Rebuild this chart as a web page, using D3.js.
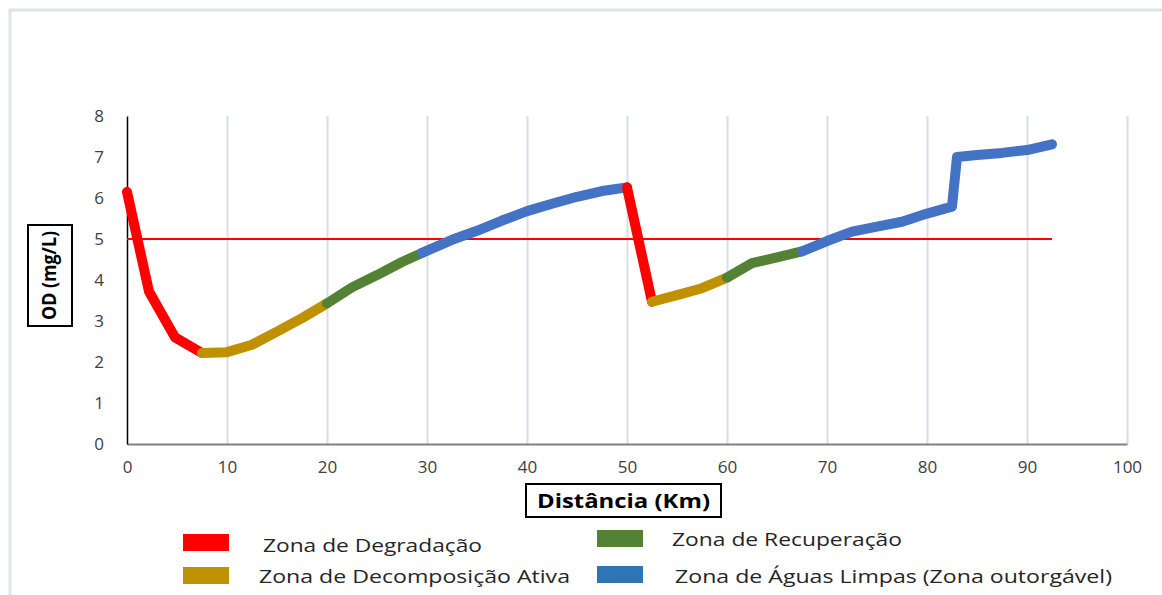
<!DOCTYPE html>
<html>
<head>
<meta charset="utf-8">
<script src="https://cdn.jsdelivr.net/npm/d3@7"></script>
<style>
  html, body { margin: 0; padding: 0; background: #ffffff; }
  svg { display: block; }
  text { font-family: "Open Sans", "DejaVu Sans", sans-serif; }
</style>
</head>
<body>
<svg id="chart" width="1162" height="595"></svg>
<script>
// ---- Data ----
const zoneNames = ["Zona de Degradação", "Zona de Decomposição Ativa", "Zona de Recuperação", "Zona de Águas Limpas (Zona outorgável)"];
const zoneColors = ["#ff0000", "#bf9000", "#548235", "#4472c4"];
const legendColors = ["#ff0000", "#bf9000", "#548235", "#2e75b6"];

// Segments: zone index, distances (km), OD values (mg/L)
const seg1Zone = 0;
const seg1X = [0, 2.2, 4.8, 7.5];
const seg1Y = [6.15, 3.72, 2.6, 2.22];

const seg2Zone = 1;
const seg2X = [7.5, 10, 12.5, 15, 17.5, 20];
const seg2Y = [2.22, 2.24, 2.42, 2.74, 3.07, 3.43];

const seg3Zone = 2;
const seg3X = [20, 22.5, 25, 27.5, 29.5];
const seg3Y = [3.43, 3.82, 4.12, 4.44, 4.66];

const seg4Zone = 3;
const seg4X = [29.5, 32.5, 35, 37.5, 40, 42.5, 45, 47.5, 50];
const seg4Y = [4.66, 4.98, 5.2, 5.45, 5.68, 5.86, 6.03, 6.17, 6.26];

const seg5Zone = 0;
const seg5X = [50, 52.5];
const seg5Y = [6.26, 3.47];

const seg6Zone = 1;
const seg6X = [52.5, 55, 57.5, 60];
const seg6Y = [3.47, 3.63, 3.8, 4.06];

const seg7Zone = 2;
const seg7X = [60, 62.5, 65, 67.5];
const seg7Y = [4.06, 4.41, 4.55, 4.7];

const seg8Zone = 3;
const seg8X = [67.5, 70, 72.5, 75, 77.5, 80, 82.5, 83, 85, 87.5, 90, 92.5];
const seg8Y = [4.7, 4.95, 5.18, 5.3, 5.42, 5.62, 5.79, 7.0, 7.05, 7.1, 7.17, 7.31];

const thresholdValue = 5;
const thresholdX = [0, 92.5];

const xTicks = [0, 10, 20, 30, 40, 50, 60, 70, 80, 90, 100];
const yTicks = [0, 1, 2, 3, 4, 5, 6, 7, 8];
const xTitle = "Distância (Km)";
const yTitle = "OD (mg/L)";

// ---- Layout ----
const svg = d3.select("#chart");
const pLeft = 127, pRight = 1127, pTop = 116, pBottom = 444;

const x = d3.scaleLinear().domain([0, 100]).range([pLeft, pRight]);
const y = d3.scaleLinear().domain([0, 8]).range([pBottom, pTop]);

// Outer frame
svg.append("rect")
  .attr("x", 10).attr("y", 10).attr("width", 1250).attr("height", 700)
  .attr("fill", "none").attr("stroke", "#dfe3eb").attr("stroke-width", 3);

// Vertical gridlines
const grid = svg.append("g").attr("transform", `translate(0,${pBottom})`)
  .call(d3.axisBottom(x).tickValues(xTicks.slice(1)).tickSize(-(pBottom - pTop)).tickFormat(""));
grid.select(".domain").remove();
grid.selectAll("line").attr("stroke", "#d9dee8").attr("stroke-width", 2);

// X axis
const xAxis = svg.append("g").attr("transform", `translate(0,${pBottom})`)
  .call(d3.axisBottom(x).tickValues(xTicks).tickSize(0).tickPadding(17));
xAxis.select(".domain").attr("stroke", "#808080").attr("stroke-width", 2);
xAxis.selectAll("text").attr("font-size", 17).attr("fill", "#404040")
  .attr("font-family", "'Open Sans', sans-serif");

// Y axis
const yAxis = svg.append("g").attr("transform", `translate(${pLeft},0)`)
  .call(d3.axisLeft(y).tickValues(yTicks).tickSize(0).tickPadding(23));
yAxis.select(".domain").attr("stroke", "#000000").attr("stroke-width", 1.5);
yAxis.selectAll("text").attr("font-size", 17).attr("fill", "#404040")
  .attr("font-family", "'Open Sans', sans-serif");

// Threshold line
svg.append("line")
  .attr("x1", x(thresholdX[0])).attr("x2", x(thresholdX[1]))
  .attr("y1", y(thresholdValue)).attr("y2", y(thresholdValue))
  .attr("stroke", "#ff0000").attr("stroke-width", 2);

// Segments
const segments = [
  [seg1Zone, seg1X, seg1Y], [seg2Zone, seg2X, seg2Y], [seg3Zone, seg3X, seg3Y], [seg4Zone, seg4X, seg4Y],
  [seg5Zone, seg5X, seg5Y], [seg6Zone, seg6X, seg6Y], [seg7Zone, seg7X, seg7Y], [seg8Zone, seg8X, seg8Y]
];
const line = d3.line().x(d => x(d[0])).y(d => y(d[1]));
segments.forEach(([z, xs, ys]) => {
  svg.append("path")
    .datum(xs.map((v, i) => [v, ys[i]]))
    .attr("d", line)
    .attr("fill", "none")
    .attr("stroke", zoneColors[z])
    .attr("stroke-width", 10)
    .attr("stroke-linecap", "round")
    .attr("stroke-linejoin", "round");
});

// Axis titles
svg.append("rect").attr("x", 526).attr("y", 484).attr("width", 195).attr("height", 33)
  .attr("fill", "none").attr("stroke", "#000").attr("stroke-width", 2);
svg.append("text").attr("x", 623.5).attr("y", 508).attr("text-anchor", "middle")
  .attr("font-size", 20).attr("font-weight", "bold").attr("fill", "#000")
  .attr("textLength", 173).attr("lengthAdjust", "spacingAndGlyphs")
  .text(xTitle);

svg.append("rect").attr("x", 28).attr("y", 225).attr("width", 44).attr("height", 101)
  .attr("fill", "none").attr("stroke", "#000").attr("stroke-width", 2);
svg.append("text").attr("transform", "translate(56,275.5) rotate(-90)").attr("text-anchor", "middle")
  .attr("font-size", 19).attr("font-weight", "bold").attr("fill", "#000")
  .attr("textLength", 89).attr("lengthAdjust", "spacingAndGlyphs")
  .text(yTitle);

// Legend
const legendRectX = [183, 183, 597, 597];
const legendRectY = [534, 567, 530, 566];
const legendTextX = [263, 259, 672, 675];
const legendTextY = [552, 583, 546, 583];
const legendTextW = [219, 311, 230, 437];
zoneNames.forEach((name, i) => {
  svg.append("rect").attr("x", legendRectX[i]).attr("y", legendRectY[i])
    .attr("width", 46).attr("height", 17).attr("fill", legendColors[i]);
  svg.append("text").attr("x", legendTextX[i]).attr("y", legendTextY[i])
    .attr("font-size", 18).attr("fill", "#262626")
    .attr("textLength", legendTextW[i]).attr("lengthAdjust", "spacingAndGlyphs")
    .text(name);
});
</script>
</body>
</html>
